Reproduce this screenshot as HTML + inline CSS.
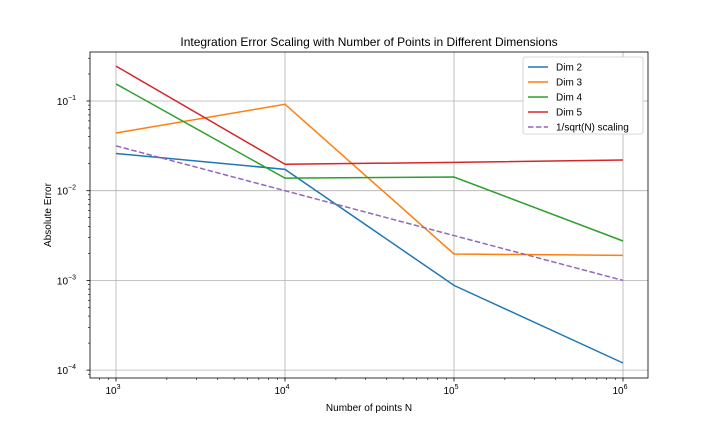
<!DOCTYPE html>
<html><head><meta charset="utf-8"><style>
html,body{margin:0;padding:0;background:#fff;}
svg{font-family:"Liberation Sans","DejaVu Sans",sans-serif;display:block;}
</style></head><body>
<svg id="chart" width="720" height="432"></svg>
<script>
const categories=[1e3,1e4,1e5,1e6];
const dim2=[0.026,0.0173,0.00088,0.00012];
const dim3=[0.044,0.092,0.00197,0.0019];
const dim4=[0.155,0.0138,0.0142,0.00275];
const dim5=[0.245,0.0197,0.0207,0.022];
const refScaling=[0.0316,0.01,0.00316,0.001];
const seriesNames=["Dim 2","Dim 3","Dim 4","Dim 5","1/sqrt(N) scaling"];
const xTickExp=[3,4,5,6];
const yTickExp=[-4,-3,-2,-1];

const NS="http://www.w3.org/2000/svg";
const svg=document.getElementById('chart');
const L=90,R=648,T=52,B=378;
function sx(v){return 116+(Math.log10(v)-3)*169;}
function sy(v){return 101+(-1-Math.log10(v))*89.7;}
function mk(tag,attrs,parent){const e=document.createElementNS(NS,tag);for(const k in attrs)e.setAttribute(k,attrs[k]);(parent||svg).appendChild(e);return e;}

// grid
xTickExp.forEach(p=>{const x=sx(Math.pow(10,p));
 const g=mk('line',{x1:x,x2:x,y1:T,y2:B,stroke:'#b0b0b0','stroke-width':0.8});
 
 });
yTickExp.forEach(p=>{const y=sy(Math.pow(10,p));
 const g=mk('line',{x1:L,x2:R,y1:y,y2:y,stroke:'#b0b0b0','stroke-width':0.8});
 
 });

// minor ticks
for(let p=3;p<=6;p++)for(let m=2;m<=9;m++){const v=m*Math.pow(10,p-1);const x=sx(v);if(x<L||x>R)continue;mk('line',{x1:x,x2:x,y1:B,y2:B+2,stroke:'#000','stroke-width':0.6});}
for(let p=-5;p<=0;p++)for(let m=2;m<=9;m++){const v=m*Math.pow(10,p);const y=sy(v);if(y<T||y>B)continue;mk('line',{x1:L-2,x2:L,y1:y,y2:y,stroke:'#000','stroke-width':0.6});}

// major ticks + labels
xTickExp.forEach(p=>{const x=sx(Math.pow(10,p));
 mk('line',{x1:x,x2:x,y1:B,y2:B+3.5,stroke:'#000','stroke-width':0.8});
 const t=mk('text',{x:x-3,y:B+16,'font-size':10,'text-anchor':'middle'});
 
 
 t.textContent='10';
 const s=mk('tspan',{dy:-5,'font-size':7},t);s.textContent=p;});
yTickExp.forEach(p=>{const y=sy(Math.pow(10,p));
 mk('line',{x1:L-3.5,x2:L,y1:y,y2:y,stroke:'#000','stroke-width':0.8});
 const t=mk('text',{x:L-14,y:y+4,'font-size':10,'text-anchor':'end'});
 
 
 t.textContent='10';
 const s=mk('tspan',{dy:-5,'font-size':7},t);s.textContent=p<0?'\u2212'+(-p):p;});

// series
const colors=['#1f77b4','#ff7f0e','#2ca02c','#d62728','#9467bd'];
const allSeries=[dim2,dim3,dim4,dim5,refScaling];
allSeries.forEach((arr,i)=>{
 const pts=arr.map((v,j)=>sx(categories[j])+','+sy(v)).join(' ');
 const pl=mk('polyline',{points:pts,fill:'none',stroke:colors[i],'stroke-width':1.5});
 if(i===4)pl.setAttribute('stroke-dasharray','5.5,2.4');
 
 
});

// frame
const fr=mk('rect',{x:L,y:T,width:R-L,height:B-T,fill:'none',stroke:'#000','stroke-width':0.8});



// legend
const lg=mk('g',{});


mk('rect',{x:523,y:57,width:120,height:77,fill:'#fff',stroke:'#ccc','stroke-width':0.8,rx:2},lg);
seriesNames.forEach((n,i)=>{const y=67+i*15;
 const ln=mk('line',{x1:528,x2:548,y1:y,y2:y,stroke:colors[i],'stroke-width':1.5},lg);
 if(i===4)ln.setAttribute('stroke-dasharray','5.5,2.4');
 const t=mk('text',{x:556,y:y+3.5,'font-size':10},lg);
 
 
 t.textContent=n;});

// titles
const tt=mk('text',{x:369,y:46,'font-size':12,'text-anchor':'middle'});


tt.textContent='Integration Error Scaling with Number of Points in Different Dimensions';
const xt=mk('text',{x:369,y:411,'font-size':10,'text-anchor':'middle'});


xt.textContent='Number of points N';
const yt=mk('text',{x:51,y:215,'font-size':10,'text-anchor':'middle',transform:'rotate(-90 51 215)'});


yt.textContent='Absolute Error';
</script>
</body></html>
